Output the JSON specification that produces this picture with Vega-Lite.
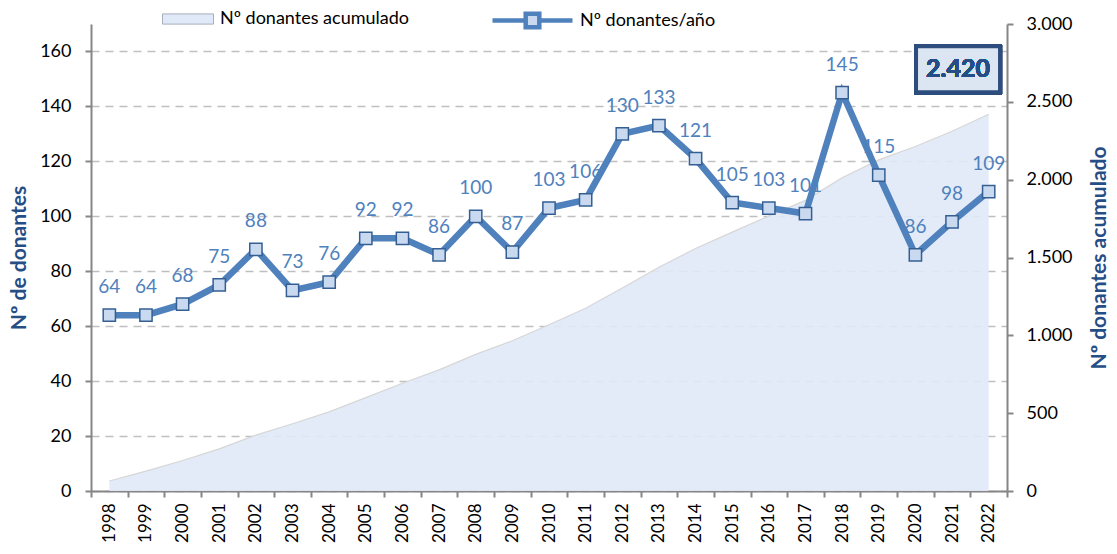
{
  "$schema": "https://vega.github.io/schema/vega-lite/v6.json",
  "width": 916,
  "height": 467,
  "autosize": {"type": "none"},
  "padding": {"left": 91, "top": 24, "right": 110, "bottom": 63},
  "background": "white",
  "config": {
    "view": {"stroke": null},
    "font": "Lato",
    "axis": {"labelFont": "Lato", "titleFont": "Lato", "labelColor": "#000000"},
    "legend": {"labelFont": "Lato", "labelLimit": 0}
  },
  "data": {
    "values": [
      {"year": "1998", "n": 64, "acum": 64},
      {"year": "1999", "n": 64, "acum": 128},
      {"year": "2000", "n": 68, "acum": 196},
      {"year": "2001", "n": 75, "acum": 271},
      {"year": "2002", "n": 88, "acum": 359},
      {"year": "2003", "n": 73, "acum": 432},
      {"year": "2004", "n": 76, "acum": 508},
      {"year": "2005", "n": 92, "acum": 600},
      {"year": "2006", "n": 92, "acum": 692},
      {"year": "2007", "n": 86, "acum": 778},
      {"year": "2008", "n": 100, "acum": 878},
      {"year": "2009", "n": 87, "acum": 965},
      {"year": "2010", "n": 103, "acum": 1068},
      {"year": "2011", "n": 106, "acum": 1174},
      {"year": "2012", "n": 130, "acum": 1304},
      {"year": "2013", "n": 133, "acum": 1437},
      {"year": "2014", "n": 121, "acum": 1558},
      {"year": "2015", "n": 105, "acum": 1663},
      {"year": "2016", "n": 103, "acum": 1766},
      {"year": "2017", "n": 101, "acum": 1867},
      {"year": "2018", "n": 145, "acum": 2012},
      {"year": "2019", "n": 115, "acum": 2127},
      {"year": "2020", "n": 86, "acum": 2213},
      {"year": "2021", "n": 98, "acum": 2311},
      {"year": "2022", "n": 109, "acum": 2420}
    ]
  },
  "encoding": {
    "x": {
      "field": "year",
      "type": "ordinal",
      "scale": {"paddingInner": 0, "paddingOuter": 0},
      "axis": {
        "title": null,
        "labelAngle": -90,
        "labelFontSize": 17,
        "labelPadding": 6,
        "tickBand": "extent",
        "tickSize": 6,
        "tickWidth": 2,
        "tickColor": "#868686",
        "domainColor": "#868686",
        "domainWidth": 2,
        "grid": false
      }
    }
  },
  "layer": [
    {
      "layer": [
        {
          "mark": {"type": "area", "fillOpacity": 0.9},
          "encoding": {
            "y": {
              "field": "acum",
              "type": "quantitative",
              "scale": {"domain": [0, 3000], "nice": false},
              "axis": {
                "orient": "right",
                "values": [0, 500, 1000, 1500, 2000, 2500, 3000],
                "labelExpr": "replace(format(datum.value, ','), ',', '.')",
                "labelFontSize": 18,
                "labelPadding": 13,
                "tickSize": 6,
                "tickWidth": 2,
                "tickColor": "#868686",
                "domainColor": "#868686",
                "domainWidth": 2,
                "grid": false,
                "title": "Nº donantes acumulado",
                "titleAngle": 270,
                "titleBaseline": "top",
                "titleFontSize": 21,
                "titleFontWeight": "bold",
                "titleColor": "#254E87",
                "titlePadding": 16
              }
            },
            "fill": {
              "datum": "Nº donantes acumulado",
              "scale": {"range": ["#E0E9F7"]},
              "legend": {
                "orient": "none",
                "legendX": 71,
                "legendY": -31,
                "title": null,
                "labelFontSize": 18,
                "labelColor": "#000000",
                "labelOffset": 6,
                "symbolType": "M-1,-0.2H1V0.2H-1Z",
                "symbolSize": 2601,
                "symbolStrokeColor": "#A6AEBB",
                "symbolStrokeWidth": 1,
                "symbolFillColor": "#DDE3EC",
                "symbolOpacity": 1
              }
            }
          }
        },
        {
          "mark": {"type": "line", "stroke": "#D6D6D6", "strokeWidth": 1.2},
          "encoding": {
            "y": {"field": "acum", "type": "quantitative"}
          }
        },
        {
          "mark": {
            "type": "point",
            "filled": true,
            "shape": "M-0.857,-0.548H1.143V0.548H-0.857Z",
            "size": 7056,
            "fill": "#DCE6F2",
            "stroke": "#2C4D7D",
            "strokeWidth": 4,
            "opacity": 1
          },
          "encoding": {
            "x": {"datum": "2021", "type": "ordinal"},
            "y": {"datum": 2710, "type": "quantitative"}
          }
        },
        {
          "mark": {
            "type": "text",
            "dx": 6,
            "fontSize": 25,
            "fontWeight": "bold",
            "color": "#254E87",
            "baseline": "middle",
            "align": "center"
          },
          "encoding": {
            "x": {"datum": "2021", "type": "ordinal"},
            "y": {"datum": 2710, "type": "quantitative"},
            "text": {"value": "2.420"}
          }
        }
      ]
    },
    {
      "layer": [
        {
          "mark": {
            "type": "text",
            "dy": -28,
            "fontSize": 19,
            "color": "#4F81BD",
            "baseline": "middle",
            "align": "center"
          },
          "encoding": {
            "y": {"field": "n", "type": "quantitative"},
            "text": {"field": "n", "type": "quantitative"}
          }
        },
        {
          "mark": {"type": "line", "strokeWidth": 6.5},
          "encoding": {
            "y": {
              "field": "n",
              "type": "quantitative",
              "scale": {"domain": [0, 170], "nice": false},
              "axis": {
                "orient": "left",
                "values": [0, 20, 40, 60, 80, 100, 120, 140, 160],
                "labelFontSize": 18,
                "labelPadding": 14,
                "tickSize": 6,
                "tickWidth": 2,
                "tickColor": "#868686",
                "domainColor": "#868686",
                "domainWidth": 2,
                "grid": true,
                "gridColor": "#BFBFBF",
                "gridDash": [8, 6],
                "gridWidth": 1.5,
                "title": "Nº de donantes",
                "titleFontSize": 21,
                "titleFontWeight": "bold",
                "titleColor": "#254E87",
                "titlePadding": 10
              }
            },
            "stroke": {
              "datum": "Nº donantes/año",
              "scale": {"range": ["#4F81BD"]},
              "legend": {
                "orient": "none",
                "legendX": 399,
                "legendY": -46,
                "title": null,
                "labelFontSize": 18,
                "labelColor": "#000000",
                "labelOffset": 5,
                "symbolType": "M-1,0H-0.17M0.17,0H1M-0.17,-0.17H0.17V0.17H-0.17Z",
                "symbolSize": 6400,
                "symbolStrokeWidth": 4.5,
                "symbolFillColor": "#C9DAF0"
              }
            }
          }
        },
        {
          "mark": {
            "type": "point",
            "shape": "square",
            "filled": true,
            "size": 150,
            "fill": "#C9DAF0",
            "stroke": "#355F93",
            "strokeWidth": 1.5,
            "opacity": 1
          },
          "encoding": {
            "y": {"field": "n", "type": "quantitative"}
          }
        }
      ]
    }
  ],
  "resolve": {"scale": {"y": "independent"}}
}
